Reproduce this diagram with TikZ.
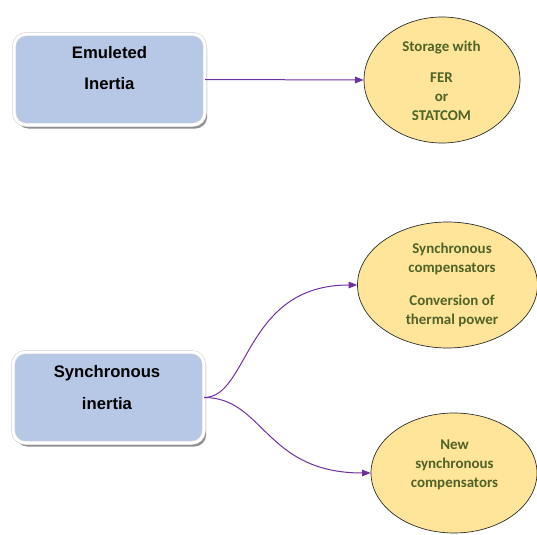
\documentclass[tikz,border=0pt]{standalone}
\usepackage{fontspec}
\setmainfont{Liberation Sans}
\newfontfamily\calibri{Carlito}
\usepackage{xcolor}
\usetikzlibrary{shapes.geometric, arrows.meta, shadows}

\definecolor{boxblue}{RGB}{183,200,230}
\definecolor{ovalfill}{RGB}{255,229,153}
\definecolor{ovalgreen}{RGB}{79,98,40}
\definecolor{linkpurple}{RGB}{112,48,160}

\begin{document}
\begin{tikzpicture}[x=0.75pt, y=-0.75pt,
    inertiabox/.style={rectangle, rounded corners=9pt, fill=boxblue, draw=gray!35, double=white, double distance=2.2pt, line width=0.4pt, minimum width=143pt, minimum height=68pt, drop shadow={shadow xshift=1.8pt, shadow yshift=-2.8pt, fill=gray!90!black, opacity=0.8}},
    boxtext/.style={font=\bfseries\fontsize{12.5}{23.5}\selectfont, align=center},
    supplyoval/.style={ellipse, draw=black!85, line width=0.5pt, fill=ovalfill, inner sep=0pt},
    ovaltext/.style={text=ovalgreen, font=\calibri\bfseries\fontsize{11.2}{14.3}\selectfont, align=center},
    link/.style={draw=linkpurple, line width=0.75pt, -{Triangle[length=6.5pt, width=5pt]}}]
    \useasboundingbox (0,0) rectangle (537,535);

    % inertia boxes
    \node (emulated) [inertiabox] at (109.5,79.5) {};
    \node (emulatedtext) [boxtext] at (109.5,68) {Emuleted\\Inertia};
    \node (synchro) [inertiabox] at (108.5,397.5) {};
    \node (synchrotext) [boxtext] at (107,387.5) {Synchronous\\inertia};

    % supply ovals
    \node (storage) [supplyoval, minimum width=117pt, minimum height=94.5pt] at (442,80) {};
    \node (storagetext) [ovaltext] at (441.5,81) {Storage with\\[9pt]FER\\or\\STATCOM};
    \node (compens) [supplyoval, minimum width=135pt, minimum height=94.5pt] at (447.5,285) {};
    \node (compenstext) [ovaltext] at (452,285) {Synchronous\\compensators\\[10pt]Conversion of\\thermal power};
    \node (newcomp) [supplyoval, minimum width=124.5pt, minimum height=90pt] at (454,473) {};
    \node (newcomptext) [ovaltext] at (454.5,465) {New\\synchronous\\compensators};

    \draw [link] (emulated.east) -- (storage.west);
    \draw [link] (synchro.east) .. controls +(45,0) and +(-113,0) .. (compens.west);
    \draw [link] (synchro.east) .. controls +(60,0) and +(-106,0) .. (newcomp.west);
\end{tikzpicture}
\end{document}
